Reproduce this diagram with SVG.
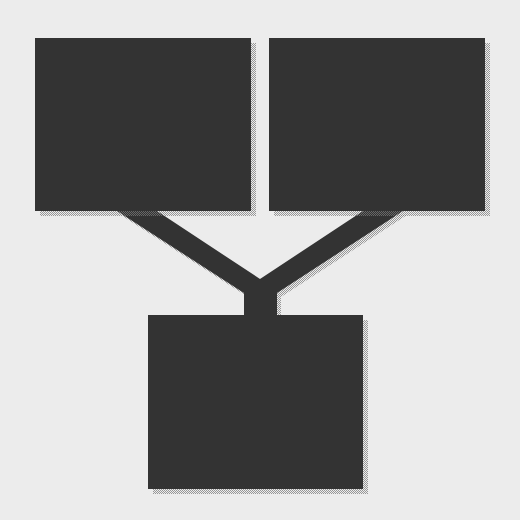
<svg xmlns="http://www.w3.org/2000/svg" width="520" height="520" viewBox="0 0 520 520">
<defs>
<pattern id="dots" width="2" height="2" patternUnits="userSpaceOnUse">
<rect x="0" y="0" width="1" height="1" fill="#7a7a7a"/>
<rect x="1" y="1" width="1" height="1" fill="#7a7a7a"/>
</pattern>
</defs>
<style>
.box{fill:#333333}
.shadow{fill:url(#dots);opacity:0.75}
</style>
<rect width="520" height="520" fill="#ececec"/>
<g id="connectors">
<polygon class="shadow" points="121,215 161,215 264,283 367,215 407,215 281,297 281,320 248,320 248,297"/>
<polygon class="box" points="117,211 157,211 260,279 363,211 403,211 277,293 277,316 244,316 244,293"/>
</g>
<g id="box-top-left">
<rect class="shadow" x="40" y="43" width="216" height="173"/>
<rect class="box" x="35" y="38" width="216" height="173"/>
</g>
<g id="box-top-right">
<rect class="shadow" x="274" y="43" width="216" height="173"/>
<rect class="box" x="269" y="38" width="216" height="173"/>
</g>
<g id="box-bottom">
<rect class="shadow" x="153" y="320" width="215" height="174"/>
<rect class="box" x="148" y="315" width="215" height="174"/>
</g>
</svg>
